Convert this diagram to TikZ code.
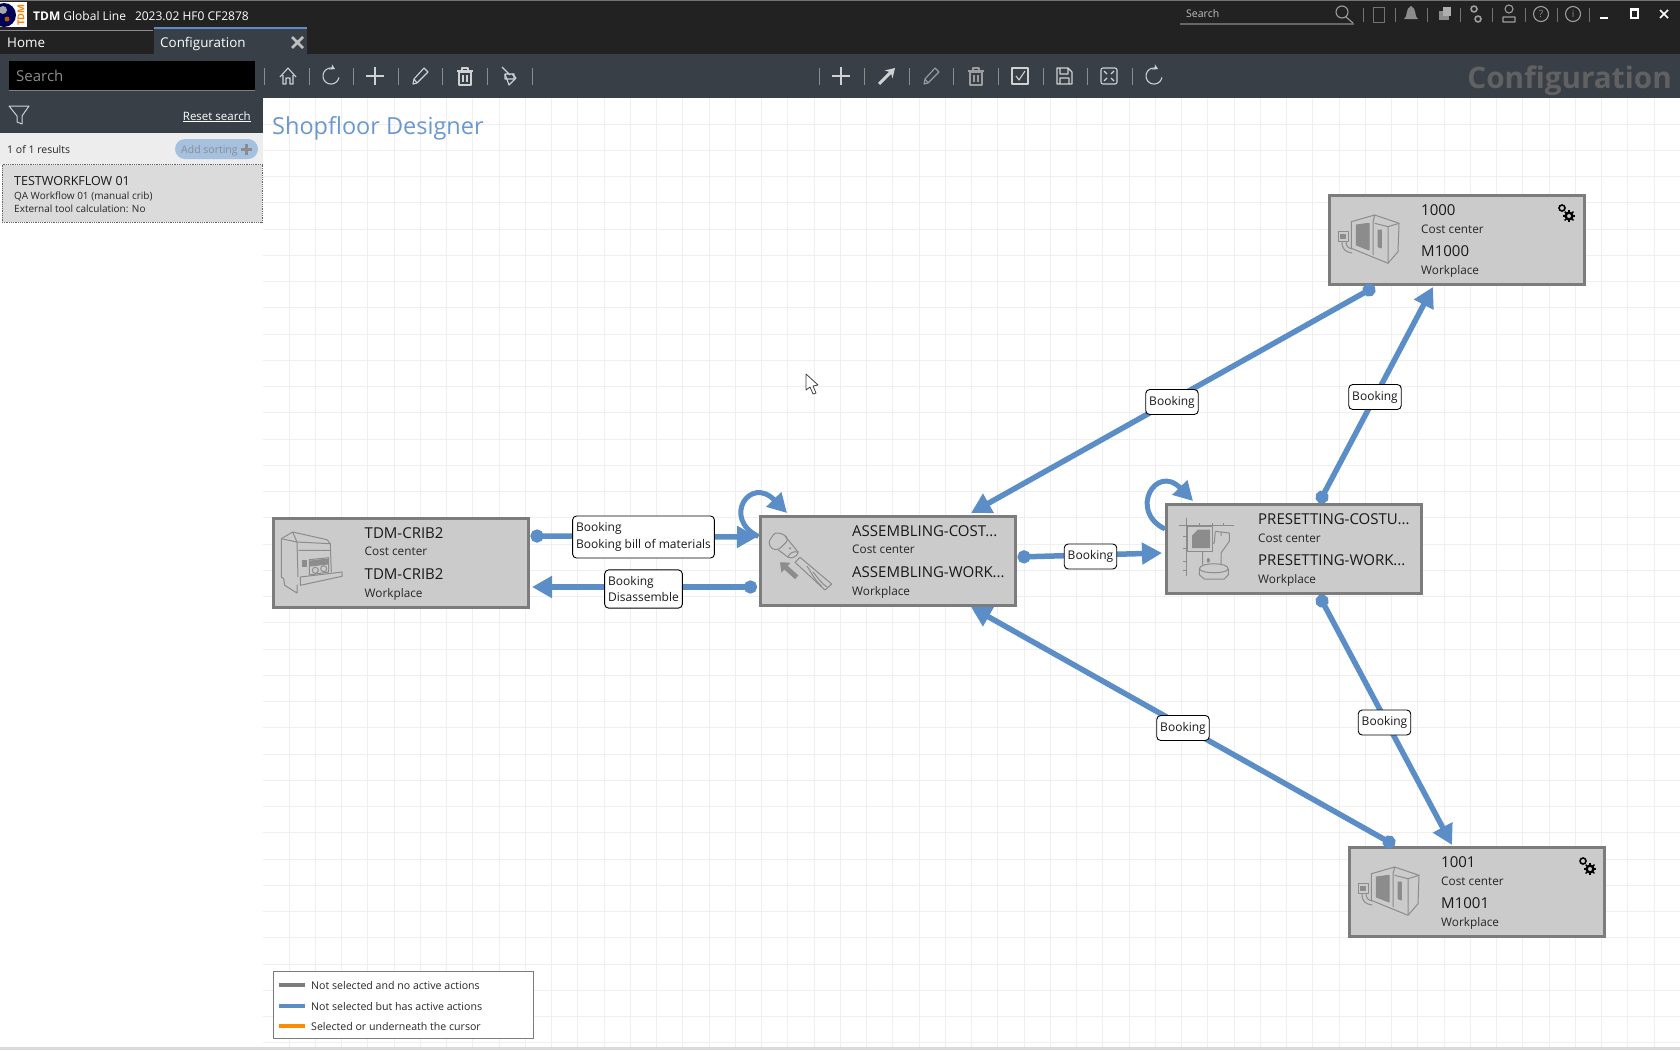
\documentclass[tikz,border=0pt]{standalone}
\usepackage{fontspec}
\setmainfont{Open Sans}
\usetikzlibrary{arrows.meta}
\definecolor{barblack}{HTML}{222222}
\definecolor{barslate}{HTML}{383F47}
\definecolor{edgeblue}{HTML}{5B8EC7}
\definecolor{cellgray}{HTML}{CBCBCB}
\definecolor{rimgray}{HTML}{7C7C7C}
\definecolor{icongray}{HTML}{8C8C8C}
\definecolor{gridgray}{HTML}{EFEFEF}
\definecolor{iconlight}{HTML}{CFD1D3}
\newcommand{\fsz}[1]{\fontsize{#1}{#1}\selectfont}
\tikzset{
	cellbox/.style={draw=rimgray,fill=cellgray,line width=3pt,minimum width=255pt,minimum height=89pt,inner sep=0pt,outer sep=0pt},
	bigtext/.style={anchor=west,inner sep=0pt,text=black!90,font=\fsz{15},text height=11pt,text depth=3pt},
	smalltext/.style={anchor=west,inner sep=0pt,text=black!85,font=\fsz{11.8},text height=9pt,text depth=3pt},
	link/.style={draw=edgeblue,line width=5.5pt,{Circle[length=13pt]}-{Triangle[length=20pt,width=21pt]}},
	selflink/.style={draw=edgeblue,line width=5pt,-{Triangle[length=19pt,width=20pt]}},
	tagbox/.style={draw=black,fill=white,line width=0.9pt,rounded corners=4pt,inner xsep=3.5pt,inner ysep=6.5pt,align=left,font=\fsz{12},text=black!90},
	sepline/.style={draw=#1,line width=0.8pt},
	ic/.style={draw=iconlight,line width=1.1pt,line join=round},
	icdim/.style={draw=icongray!85,line width=1.1pt,line join=round},
	uitext/.style={anchor=base west,inner sep=0pt},
}
% pictures inside the cells
\newcommand{\machineicon}[2]{\begin{scope}[shift={(#1,#2)},icongray,line width=1pt,line join=round]
	\draw (23.3,27.7)--(46.7,21)--(71,29.3)--(70,57.7)--(60,69.3)--(23.3,54.3)--cycle;
	\draw[fill=icongray] (28.3,31)--(41,29.3)--(41,56)--(28.3,51)--cycle;
	\draw[fill=icongray] (50,36)--(53.3,36)--(53.3,54)--(50,52.7)--cycle;
	\draw (45,28)--(45,61) (46.7,29.3)--(60,32.7)--(60,69.3) (60,32.7)--(71,29.3) (46.7,21)--(45,28);
	\draw (10,37.7) rectangle (20,47.7);
	\draw[fill=icongray] (12.5,40.5) rectangle (17,44);
	\draw (14,47.7) .. controls (14,56) and (18,58) .. (24,59) (18,47.7) .. controls (18,52) and (20,54) .. (24,55);
\end{scope}}
\newcommand{\gearicon}[2]{\begin{scope}[shift={(#1,#2)},black]
	\draw[line width=1.6pt] (0,0) circle (3pt);
	\draw[line width=2.4pt] (7,8) circle (3.4pt);
	\foreach \ang in {0,45,...,315}
		\draw[line width=1.4pt] (7,8)++(\ang:4pt)--++(\ang:2.2pt);
\end{scope}}
\newcommand{\workbox}[5]{%
	\node[cellbox] (#1) at (#2,#3) {};
	\node[bigtext] (#1first) at ([shift={(-36,-28.5)}]#1.center) {#4};
	\node[smalltext] (#1cost) at ([shift={(-36,-10)}]#1.center) {Cost center};
	\node[bigtext] (#1second) at ([shift={(-36,12.5)}]#1.center) {#5};
	\node[smalltext] (#1place) at ([shift={(-36,31.5)}]#1.center) {Workplace};
}
% toolbar icons
\newcommand{\icplus}[1]{\draw[ic] (#1-9,76)--(#1+9,76) (#1,67)--(#1,85);}
\newcommand{\icredo}[1]{\draw[ic,-{Stealth[length=5pt,width=6pt]},samples=24,smooth,domain=10:300] plot({#1+8*cos(\x)},{76+8*sin(\x)});}
\newcommand{\icpen}[2][ic]{\begin{scope}[shift={(#2,76)}]\draw[#1] (-7,8)--(-6,3)--(4,-8)--(8,-4)--(-3,7)--cycle (-6,3)--(-3,7);\end{scope}}
\newcommand{\ictrash}[2][ic]{\begin{scope}[shift={(#2,76)}]\draw[#1] (-6,-4) rectangle (6,9) (-8,-5)--(8,-5) (-3,-5)--(-3,-8)--(3,-8)--(3,-5) (-2,-1)--(-2,6) (2,-1)--(2,6);\end{scope}}
\begin{document}
\begin{tikzpicture}[>=stealth,x=1pt,y=-1pt]
	\useasboundingbox (0,0) rectangle (1680,1050);
	\fill[white] (0,0) rectangle (1680,1050);
	% grid
	\foreach \gx in {289,315.25,...,1680} \draw[gridgray,line width=1pt] (\gx,98)--(\gx,1047);
	\foreach \gy in {124,150.25,...,1047} \draw[gridgray,line width=1pt] (263,\gy)--(1680,\gy);
	\fill[white] (0,98) rectangle (263,1047);
	\fill[black!15] (0,1047) rectangle (1680,1050);
	% bars
	\fill[barblack] (0,0) rectangle (1680,54);
	\fill[barslate] (0,54) rectangle (1680,98);
	\fill[barslate] (0,98) rectangle (263,133);
	\fill[black!7] (0,133) rectangle (263,165);
	\draw[black!55,line width=1pt] (0,0.5)--(1680,0.5);
	% logo
	\fill[white] (0,2) rectangle (27,27);
	\begin{scope}
		\clip (0,2) rectangle (16,27);
		\fill[blue!35!black] (4,15) circle (12pt);
		\fill[black!35] (3,10) circle (4pt);
		\fill[orange!70!black] (7,19) circle (2.5pt);
	\end{scope}
	\node[rotate=90,inner sep=0pt,text=orange,font=\fsz{9.5}\bfseries] (logo) at (21,15) {TDM};
	\node[uitext,text=white,font=\fsz{12}] (apptitle) at (33,20) {\textbf{TDM} Global Line\hspace{9pt}2023.02 HF0 CF2878};
	% tabs
	\draw[black!45,line width=1pt] (0,30)--(153,30);
	\fill[barslate] (154,28) rectangle (307,54);
	\draw[edgeblue,line width=1.5pt] (154,28)--(307,28);
	\node[uitext,text=white,font=\fsz{13.4}] (tabhome) at (7,47.5) {Home};
	\node[uitext,text=white,font=\fsz{13.4}] (tabconf) at (160,47.5) {Configuration};
	\draw[black!25,line width=2.6pt] (292,37)--(303,48) (303,37)--(292,48);
	% top right
	\node[uitext,text=black!25,font=\fsz{10.5}] (topsearch) at (1186,17.5) {Search};
	\draw[black!60,line width=1.2pt] (1180,24)--(1354,24);
	\draw[icdim] (1342,12) circle (6pt) (1346,17)--(1353,23);
	\foreach \sx in {1363,1395,1427,1460,1492,1525,1557,1589} \draw[sepline=black!55] (\sx,8)--(\sx,22);
	\draw[draw=black!55,line width=1pt] (1373,7) rectangle (1384,22);
	\fill[icongray] (1411,6) .. controls (1405,8) and (1408,17) .. (1404,19)--(1418,19) .. controls (1414,17) and (1417,8) .. (1411,6);
	\fill[icongray] (1439,11) rectangle (1449,20);
	\fill[icongray!70] (1443,7) rectangle (1451,16);
	\draw[icdim,line width=1.6pt] (1474,9) circle (3pt) (1478,19) circle (3pt);
	\draw[icdim] (1509,9) circle (4pt) (1503,22) rectangle (1515,17);
	\draw[icdim] (1541,14) circle (7.5pt) (1573,14) circle (7.5pt);
	\node[inner sep=0pt,text=icongray,font=\fsz{10}] (helpmark) at (1541,14) {?};
	\node[inner sep=0pt,text=icongray,font=\fsz{10}] (infomark) at (1573,14) {i};
	\draw[white,line width=2pt] (1600,18)--(1608,18);
	\draw[white,line width=1.1pt] (1631,9) rectangle (1638,18);
	\draw[white,line width=2pt] (1631,9.5)--(1638,9.5);
	\draw[white,line width=1.6pt] (1660,10)--(1668,18) (1668,10)--(1660,18);
	% toolbars
	\fill[black] (9,61) rectangle (255,90);
	\draw[black!50,line width=0.8pt] (9,90)--(255,90);
	\node[uitext,text=black!45,font=\fsz{15}] (searchtext) at (16,81.5) {Search};
	\foreach \sx in {264,309,353,398,442,487,532,819,864,909,953,998,1043,1087,1132}
		\draw[sepline=black!45] (\sx,68)--(\sx,85);
	\draw[ic] (280,77)--(288,68)--(296,77) (283,75)--(283,84)--(286,84)--(286,78)--(290,78)--(290,84)--(293,84)--(293,75);
	\icredo{331}
	\icplus{375}
	\icpen{420}
	\ictrash{465}
	\draw[ic] (502,67)--(510,75) (505,74) rectangle (514,79);
	\draw[ic] (505,74)--(509,85)--(516,78)--(512,74);
	\icplus{841}
	\draw[iconlight,line width=3pt,-{Stealth[length=9pt,width=11pt]}] (879,84)--(895,68);
	\icpen[icdim]{931}
	\ictrash[icdim]{976}
	\draw[ic] (1012,68) rectangle (1028,84);
	\draw[ic] (1016,76)--(1019,80)--(1025,71);
	\draw[ic] (1057,68)--(1068,68)--(1072,72)--(1072,84)--(1057,84)--cycle (1060,68) rectangle (1068,74) (1060,84) rectangle (1069,78);
	\draw[ic,rounded corners=2pt] (1101,68) rectangle (1117,84);
	\draw[ic] (1104,71)--(1107,74) (1114,71)--(1111,74) (1104,81)--(1107,78) (1114,81)--(1111,78);
	\icredo{1154}
	\node[anchor=base east,inner sep=0pt,text=black!62,font=\fsz{29.7}\bfseries] (bartitle) at (1672,88) {Configuration};
	% side panel
	\draw[iconlight,line width=1pt,line join=round] (9,106)--(29,106)--(22,116)--(22,124)--(17,122)--(17,116)--cycle;
	\node[anchor=base east,inner sep=0pt,text=white,font=\fsz{11.5}] (resetlink) at (251,120) {\underline{Reset search}};
	\node[uitext,font=\fsz{10.5},text=black!85] (resultcount) at (7,153.5) {1 of 1 results};
	\fill[edgeblue!55] (175,139) [rounded corners=10pt] rectangle (258,159);
	\node[uitext,font=\fsz{10.5},text=black!45] (addsort) at (181,153.5) {Add sorting};
	\draw[black!45,line width=2.4pt] (241,149.5)--(252,149.5) (246.5,144)--(246.5,155);
	\draw[black!60,fill=black!14,line width=0.8pt,densely dotted] (2,164.5) rectangle (262,222);
	\node[uitext,font=\fsz{12.5},text=black!90] (itemname) at (14,185) {TESTWORKFLOW 01};
	\node[uitext,font=\fsz{10},text=black!85] (itemdesc) at (14,199) {QA Workflow 01 (manual crib)};
	\node[uitext,font=\fsz{10},text=black!85] (itemcalc) at (14,212) {External tool calculation: No};
	\node[uitext,font=\fsz{23.5},text=edgeblue!90] (sheettitle) at (272,134) {Shopfloor Designer};
	% cells
	\workbox{crib}{400.5}{562.5}{TDM-CRIB2}{TDM-CRIB2}
	\workbox{asm}{888}{560.5}{ASSEMBLING-COST...}{ASSEMBLING-WORK...}
	\workbox{preset}{1294}{549}{PRESETTING-COSTU...}{PRESETTING-WORK...}
	\workbox{mthou}{1457}{240}{1000}{M1000}
	\workbox{mthouone}{1477}{892}{1001}{M1001}
	\machineicon{1328}{194}
	\machineicon{1348}{846}
	\gearicon{1562}{208}
	\gearicon{1583}{861}
	% crib icon
	\begin{scope}[shift={(272,517)},icongray,line width=1pt,line join=round]
		\draw (9.3,21.7)--(20.7,15)--(55,22.7)--(58.3,26.7)--(59.3,55);
		\draw (9.3,21.7)--(9.3,60)--(11.7,61.7)--(12.7,68.3)--(25,76)--(25,67.5);
		\draw (28.3,60)--(70,55)--(70,59.3)--(28.3,68.3)--cycle;
		\draw (9.3,21.7)--(25,25)--(58.3,26.7) (20.7,15)--(25,25)--(26,60) (26.7,33.3)--(58.3,33.3);
		\draw (37.3,42.7)--(56.7,40.7)--(56.7,55)--(37.3,58)--cycle;
		\fill (30,43.3) rectangle (35,50);
		\draw[fill=icongray] (38.5,44)--(55.5,42)--(55.5,47)--(38.5,49)--cycle;
		\draw (43.3,53.3) circle (3pt) (51.7,51.7) circle (3pt);
	\end{scope}
	% tool icon
	\begin{scope}[shift={(760,514)},icongray,line width=1pt,line join=round]
		\draw[rounded corners=3pt] (8.3,28.3)--(15,18.3)--(25,20.7)--(28.3,26)--(18.3,36)--(11.7,35)--cycle;
		\draw (25,22)--(38.3,38.3) (18.3,36)--(28.3,43.3);
		\draw (38.3,38.3) .. controls (37,43) and (31,45) .. (28.3,43.3) .. controls (28,40) and (34,36) .. (38.3,38.3);
		\fill (30,34.3) circle (1.2pt);
		\draw (35,48.3)--(40,43.3)--(71.7,70)--(65,76)--cycle;
		\draw (47,52) .. controls (52,60) and (56,68) .. (61.7,72) (53,58) .. controls (58,64) and (62,70) .. (67,73);
		\draw[line width=5pt,-{Triangle[length=8pt,width=13pt]}] (36.7,63.3)--(20,48.3);
	\end{scope}
	% presetting icon
	\begin{scope}[shift={(1166,503)},icongray,line width=1pt,line join=round]
		\draw (12.7,22.7)--(67.7,22.7) (20.7,15)--(20.7,73.3);
		\foreach \k in {33,46.7,57} \draw (\k,22.7)--(\k,19.5);
		\foreach \k in {33,45,58,67} \draw (20.7,\k)--(17,\k);
		\draw (21.7,23.3) rectangle (46.7,48.3);
		\fill (31.7,26.7)--(44,26.7)--(44,45)--(26,45)--(26,32.7)--cycle;
		\draw (49.3,28.3)--(63.3,30)--(63.3,38.3)--(55,50)--(55,61.7);
		\draw (49.3,28.3)--(48.3,40)--(46.7,40) (55,28.8)--(55,33) (36.7,48.3)--(36.7,61.7);
		\draw (33.3,66)--(33.3,71.7)--(38.3,76)--(58.3,76)--(62.3,71.7)--(62.3,66);
		\draw (33.3,66) .. controls (33.3,59) and (62.3,59) .. (62.3,66);
		\draw (33.3,66) .. controls (36,71) and (60,71) .. (62.3,66);
		\fill (42.3,57.3) ellipse (1.6pt and 2.4pt);
	\end{scope}
	% connectors
	\draw[link] ([shift={(2.5,-26.5)}]crib.east) -- ([shift={(-3.5,-23.5)}]asm.west);
	\draw[link] ([shift={(-3.5,26.5)}]asm.west) -- ([shift={(4,24.5)}]crib.east);
	\draw[link] ([shift={(2,-3.5)}]asm.east) -- ([shift={(-4.5,4)}]preset.west);
	\draw[link] ([shift={(25,-1.7)}]preset.north) -- ([shift={(-24,2.5)}]mthou.south);
	\draw[link] ([shift={(-82.3,2.3)}]mthou.south) -- ([shift={(83,-3)}]asm.north);
	\draw[link] ([shift={(25,1.8)}]preset.south) -- ([shift={(-25,-2.5)}]mthouone.north);
	\draw[link] ([shift={(-82.3,-2.3)}]mthouone.north) -- ([shift={(83,2)}]asm.south);
	\draw[selflink] ([shift={(-2,-24)}]asm.west) .. controls +(-37,-18) and +(-37,-38) .. ([shift={(-101,-3)}]asm.north);
	\draw[selflink] ([shift={(-1.5,-20)}]preset.west) .. controls +(-37,-18) and +(-37,-38) .. ([shift={(-101,-3.5)}]preset.north);
	% tags
	\node[tagbox] (tagcrib) at (643.5,537) {Booking\\[4pt]Booking bill of materials};
	\node[tagbox] (tagback) at (643.5,589) {Booking\\[4pt]Disassemble};
	\node[tagbox] (tagpreset) at (1090.5,556.5) {Booking};
	\node[tagbox] (tagup) at (1172,402) {Booking};
	\node[tagbox] (tagright) at (1375,397) {Booking};
	\node[tagbox] (tagdown) at (1183,728) {Booking};
	\node[tagbox] (taglow) at (1384.5,722.5) {Booking};
	% cursor
	\draw[fill=white,draw=black!75,line width=0.8pt,line join=round] (806,374)--(806,390)--(810,387)--(813,394)--(816,393)--(813,386)--(818,385)--cycle;
	% legend
	\node[draw=rimgray,fill=white,line width=1.6pt,minimum width=260pt,minimum height=67pt,inner sep=0pt] (legendbox) at (403.5,1005) {};
	\foreach \i/\ly/\lc/\lt in {1/985/rimgray/Not selected and no active actions,2/1006/edgeblue/Not selected but has active actions,3/1026/orange!90!yellow/Selected or underneath the cursor}{
		\draw[\lc,line width=4.5pt] (279,\ly)--(305,\ly);
		\node[anchor=west,inner sep=0pt,font=\fsz{10.6},text=black!85] (legend\i) at (311,\ly+0.5) {\lt};
	}
\end{tikzpicture}
\end{document}
